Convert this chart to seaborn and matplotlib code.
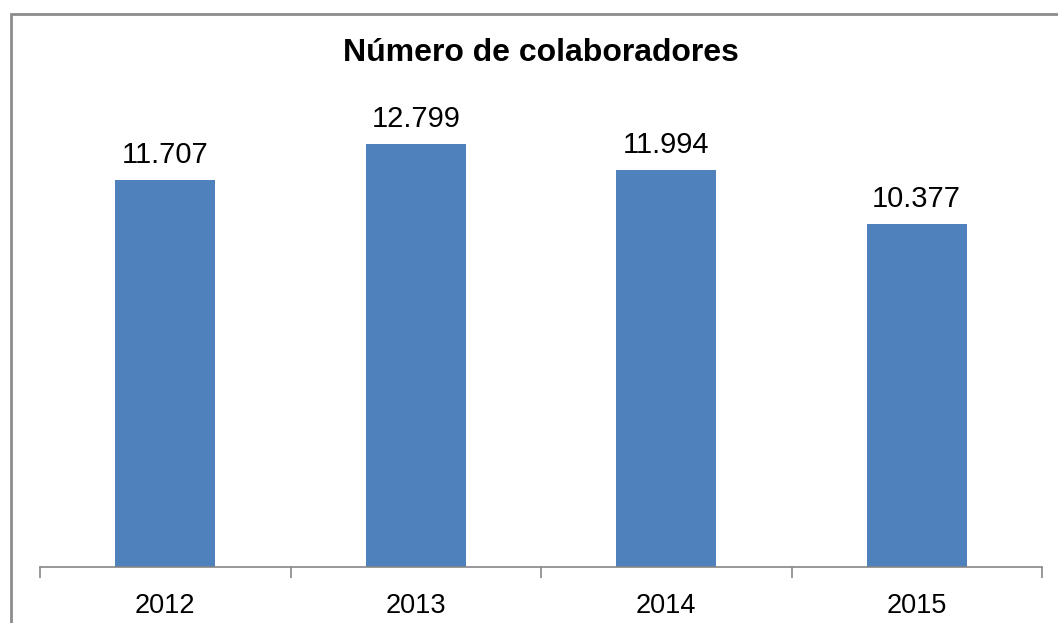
import seaborn as sns
import matplotlib.pyplot as plt
from matplotlib.patches import Rectangle

years = ['2012', '2013', '2014', '2015']
colaboradores = [11707, 12799, 11994, 10377]

sns.set_style('white')
plt.rcParams['font.family'] = ['Liberation Sans', 'DejaVu Sans']
plt.rcParams['text.color'] = 'black'
plt.rcParams['xtick.color'] = 'black'

fig = plt.figure(figsize=(10.58, 6.23), dpi=100)
ax = fig.add_axes([40/1058, 1 - 567/623, 1002/1058, 463/623])

sns.barplot(x=years, y=colaboradores, color='#4F81BD', saturation=1,
            width=0.4, linewidth=0, ax=ax)

labels = [f'{v:,}'.replace(',', '.') for v in colaboradores]
ax.bar_label(ax.containers[0], labels=labels, padding=8, fontsize=21,
             color='black')

ax.set_ylim(0, 14000)
ax.set_xlim(-0.5, len(years) - 0.5)
ax.set_yticks([])
for side in ['top', 'right', 'left']:
    ax.spines[side].set_visible(False)
ax.spines['bottom'].set_color('#868686')
ax.spines['bottom'].set_linewidth(1.2)

ax.set_xticks([i - 0.5 for i in range(len(years) + 1)], minor=True)
ax.tick_params(axis='x', which='minor', length=8, color='#868686',
               width=1.2, direction='out', bottom=True)
ax.tick_params(axis='x', which='major', length=0, labelsize=19.5, pad=19,
               labelcolor='black')

fig.text(541/1058, 1 - 53/623, 'Número de colaboradores', ha='center',
         va='center', fontsize=23, fontweight='bold', color='black')

fig.patches.append(Rectangle((11/1058, -0.1), 1.2, 1 - 14/623 + 0.1,
                             transform=fig.transFigure, fill=False,
                             edgecolor='#8C8C8C', linewidth=2))

fig.savefig('out.png', dpi=100)
